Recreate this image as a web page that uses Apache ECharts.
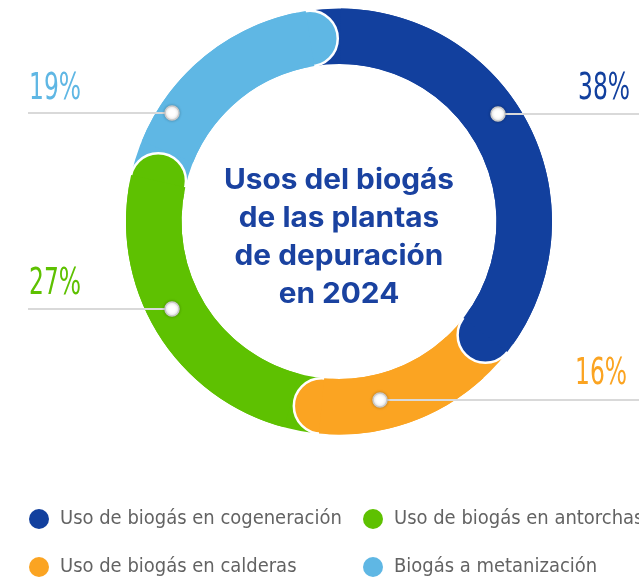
<!DOCTYPE html>
<html>
<head>
<meta charset="utf-8">
<script src="https://cdn.jsdelivr.net/npm/echarts@6/dist/echarts.min.js"></script>
<style>
  html, body { margin: 0; padding: 0; background: #fff; }
  #chart { width: 639px; height: 582px; }
</style>
</head>
<body>
<div id="chart"></div>
<script>
// ---- data ----
const categories = [
  'Uso de biogás en cogeneración',
  'Uso de biogás en calderas',
  'Uso de biogás en antorchas',
  'Biogás a metanización'
];
const values = [38, 16, 27, 19];
const titleLines = ['Usos del biogás', 'de las plantas', 'de depuración', 'en 2024'];

// ---- styles / layout ----
const colors = ['#12409E', '#FBA422', '#5EC101', '#5FB7E4'];
const CENTER = [339, 221.5];
const R_OUT = 213, R_IN = 157.5, R_MID = (R_OUT + R_IN) / 2;
const THICK = R_OUT - R_IN;
const START = 99;
const TOTAL = values.reduce((a, b) => a + b, 0);
const HEAD = TOTAL * 9.5 / 360;

// pick a condensed font if one is installed
const ctx = document.createElement('canvas').getContext('2d');
function measure(font, s) { ctx.font = font; return ctx.measureText(s).width; }
function fontAvailable(name) {
  const s = 'Uso de biogás en cogeneración 0123456789%';
  return measure('40px monospace', s) !== measure('40px "' + name + '", monospace', s) ||
         measure('40px serif', s) !== measure('40px "' + name + '", serif', s);
}
const condensedCandidates = ['Liberation Sans Narrow', 'DejaVu Sans Condensed', 'Roboto Condensed', 'Arial Narrow'];
const NARROW = condensedCandidates.find(fontAvailable) || 'Roboto';
const NARROW_CSS = '"' + NARROW + '", Roboto, sans-serif';
const legendFontSize = Math.min(25, 25 * 282 / measure('25px ' + NARROW_CSS, categories[0]));
const PCT_FONT = '300 37px ' + NARROW_CSS;
const pctScale = Math.min(1, 52 / measure(PCT_FONT, '19%'));
const TITLE_FONT = 'bold 28px Inter, "Open Sans", sans-serif';
const titleScale = 230 / measure(TITLE_FONT, titleLines[0]);

// annotation layout per slice: label anchor, line row, dot x
const annot = [
  { side: 'right', labelX: 630, labelY: 89, lineY: 114, dotX: 498 },
  { side: 'right', labelX: 627, labelY: 374, lineY: 400, dotX: 380 },
  { side: 'left',  labelX: 29,  labelY: 284, lineY: 309, dotX: 172 },
  { side: 'left',  labelX: 29,  labelY: 89,  lineY: 113, dotX: 172 }
];
// legend placement per category (2 columns)
const legendPos = [
  { left: 29, top: 509 }, { left: 29, top: 557 },
  { left: 363, top: 509 }, { left: 363, top: 557 }
];

let cum = 0;
const capData = values.map((v, i) => {
  cum += v;
  return { value: [R_MID, cum], itemStyle: { color: colors[i] } };
});

const trimData = [];
values.forEach((v, i) => {
  trimData.push({ name: '_gap' + i, value: HEAD, itemStyle: { color: 'rgba(0,0,0,0)' } });
  trimData.push({ name: '_body' + i, value: v - HEAD, itemStyle: { color: colors[i] } });
});

const graphics = [];
values.forEach((v, i) => {
  const a = annot[i];
  const x1 = a.side === 'left' ? 28 : a.dotX;
  const x2 = a.side === 'left' ? a.dotX : 639;
  graphics.push({
    type: 'line', z: 10,
    shape: { x1: x1, y1: a.lineY, x2: x2, y2: a.lineY },
    style: { stroke: '#d9d9d9', lineWidth: 2 }
  });
  graphics.push({
    type: 'circle', z: 11,
    shape: { cx: a.dotX, cy: a.lineY, r: 7 },
    style: { fill: '#fff', stroke: '#c9c9c9', lineWidth: 1.5,
             shadowBlur: 3, shadowColor: 'rgba(0,0,0,0.25)' }
  });
  const al = a.side === 'left' ? 'left' : 'right';
  graphics.push({
    type: 'text', z: 11, x: a.labelX, y: a.labelY, scaleX: pctScale,
    style: {
      text: v + '%', x: 0, y: 0,
      fill: colors[i], font: PCT_FONT,
      textAlign: al, align: al,
      textVerticalAlign: 'middle', verticalAlign: 'middle'
    }
  });
});
graphics.push({
  type: 'text', z: 12, x: CENTER[0], y: 162, scaleX: titleScale,
  style: {
    text: titleLines.join('\n'), x: 0, y: 0,
    fill: '#1A42A0', font: TITLE_FONT,
    lineHeight: 38,
    textAlign: 'center', align: 'center',
    textVerticalAlign: 'top', verticalAlign: 'top'
  }
});

const legends = categories.map((c, i) => ({
  orient: 'horizontal', left: legendPos[i].left, top: legendPos[i].top, padding: 0,
  icon: 'circle', itemWidth: 20, itemHeight: 20,
  selectedMode: false,
  textStyle: { fontFamily: NARROW_CSS, fontSize: legendFontSize, color: '#636363', padding: [0, 0, 0, 6] },
  data: [c]
}));

const chart = echarts.init(document.getElementById('chart'), null, { renderer: 'canvas' });
chart.setOption({
  animation: false,
  polar: { center: CENTER, radius: R_OUT },
  angleAxis: { type: 'value', min: 0, max: TOTAL, startAngle: START, clockwise: true, show: false },
  radiusAxis: { type: 'value', min: 0, max: R_OUT, show: false },
  legend: legends,
  series: [
    {
      type: 'pie', z: 1, silent: true,
      center: CENTER, radius: [R_IN, R_OUT], startAngle: START, clockwise: true,
      label: { show: false }, labelLine: { show: false },
      itemStyle: { borderWidth: 0 },
      data: categories.map((c, i) => ({ name: c, value: values[i], itemStyle: { color: colors[i] } }))
    },
    {
      type: 'scatter', coordinateSystem: 'polar', z: 3, silent: true,
      symbol: 'circle', symbolSize: THICK,
      itemStyle: { borderColor: '#fff', borderWidth: 2.5, opacity: 1 },
      data: capData
    },
    {
      type: 'pie', z: 5, silent: true,
      center: CENTER, radius: [R_IN, R_OUT], startAngle: START, clockwise: true,
      label: { show: false }, labelLine: { show: false },
      itemStyle: { borderWidth: 0 },
      data: trimData
    }
  ],
  graphic: graphics
});
</script>
</body>
</html>
